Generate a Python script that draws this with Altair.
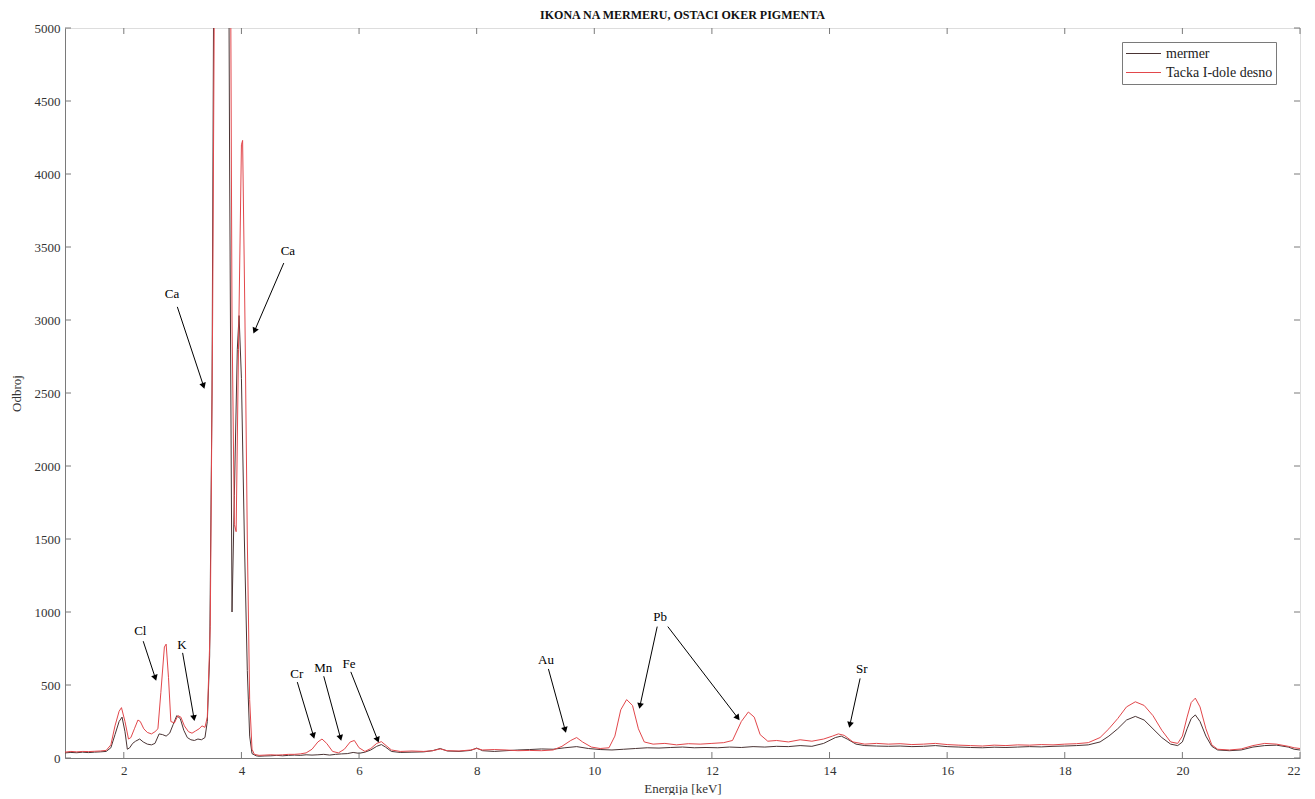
import math
import altair as alt
import pandas as pd

# ---------------- data ----------------
series_names = ["mermer", "Tacka I-dole desno"]
series_colors = ["#4a3434", "#e2474b"]

mermer_kev = [1.00, 1.1, 1.2, 1.3, 1.4, 1.5, 1.6, 1.7, 1.78, 1.85, 1.92, 1.97, 2.02, 2.06, 2.1, 2.15, 2.2, 2.27,
              2.33, 2.4, 2.47, 2.53, 2.6, 2.66, 2.72, 2.78, 2.84, 2.9, 2.96, 3.02, 3.08, 3.14, 3.2, 3.26, 3.32,
              3.38, 3.42, 3.46, 3.5, 3.53, 3.6, 3.7, 3.76, 3.8, 3.84, 3.88, 3.93, 3.96, 4.0, 4.05, 4.1, 4.14,
              4.18, 4.25, 4.3, 4.4, 4.5, 4.6, 4.7, 4.8, 4.9, 5.0, 5.1, 5.2, 5.3, 5.4, 5.5, 5.6, 5.7, 5.8, 5.9,
              6.0, 6.1, 6.2, 6.3, 6.38, 6.45, 6.55, 6.7, 6.9, 7.1, 7.25, 7.38, 7.5, 7.7, 7.9, 8.0, 8.1, 8.3,
              8.5, 8.7, 8.9, 9.1, 9.3, 9.5, 9.7, 9.9, 10.1, 10.3, 10.5, 10.7, 10.9, 11.1, 11.3, 11.5, 11.7,
              11.9, 12.1, 12.3, 12.5, 12.7, 12.9, 13.1, 13.3, 13.5, 13.7, 13.9, 14.1, 14.2, 14.3, 14.45, 14.6,
              14.8, 15.0, 15.2, 15.4, 15.6, 15.8, 16.0, 16.2, 16.4, 16.6, 16.8, 17.0, 17.2, 17.4, 17.6, 17.8,
              18.0, 18.2, 18.4, 18.6, 18.75, 18.9, 19.05, 19.2, 19.35, 19.5, 19.65, 19.8, 19.92, 20.0, 20.08,
              20.15, 20.22, 20.3, 20.4, 20.5, 20.6, 20.8, 21.0, 21.2, 21.4, 21.6, 21.8, 21.9, 22.0]
mermer_counts = [35, 38, 36, 40, 37, 40, 42, 45, 70, 160, 250, 280, 180, 60, 70, 100, 115, 130,
                 110, 95, 90, 100, 165, 160, 150, 170, 230, 290, 270, 190, 140, 125, 120, 130, 125,
                 140, 250, 700, 2500, 5500, 12000, 12000, 8000, 4000, 1000, 1800, 2800, 3030, 2600, 1500, 600, 150,
                 30, 15, 12, 14, 15, 18, 15, 18, 20, 18, 22, 20, 22, 25, 20, 25, 28, 30, 38,
                 32, 40, 55, 80, 92, 75, 45, 38, 40, 42, 50, 65, 48, 45, 52, 68, 50, 45,
                 50, 55, 58, 62, 60, 70, 78, 65, 58, 55, 60, 65, 70, 68, 72, 75, 70,
                 72, 70, 75, 72, 78, 75, 80, 78, 85, 80, 100, 140, 150, 130, 95, 85,
                 82, 80, 82, 78, 80, 85, 78, 75, 72, 70, 74, 72, 75, 78, 76, 80,
                 82, 85, 90, 110, 150, 200, 260, 285, 260, 200, 140, 95, 85, 110, 200,
                 270, 295, 250, 150, 80, 55, 50, 55, 75, 85, 88, 75, 60, 55]

tacka_kev = [1.0, 1.1, 1.2, 1.3, 1.4, 1.5, 1.6, 1.7, 1.78, 1.85, 1.92, 1.96, 2.02, 2.08, 2.12, 2.18, 2.24, 2.28,
             2.34, 2.4, 2.47, 2.53, 2.58, 2.63, 2.69, 2.72, 2.76, 2.8, 2.86, 2.92, 2.97, 3.03, 3.1, 3.16, 3.22,
             3.28, 3.33, 3.38, 3.42, 3.47, 3.51, 3.55, 3.65, 3.75, 3.8, 3.84, 3.88, 3.91, 3.95, 4.0, 4.02, 4.06,
             4.1, 4.14, 4.18, 4.22, 4.3, 4.4, 4.5, 4.6, 4.7, 4.8, 4.9, 5.0, 5.1, 5.2, 5.3, 5.37, 5.45, 5.55,
             5.65, 5.75, 5.85, 5.92, 6.0, 6.1, 6.2, 6.3, 6.38, 6.46, 6.55, 6.7, 6.9, 7.1, 7.25, 7.38, 7.5, 7.7,
             7.9, 8.0, 8.1, 8.3, 8.5, 8.7, 8.9, 9.1, 9.3, 9.45, 9.6, 9.7, 9.8, 9.95, 10.1, 10.25, 10.35, 10.45,
             10.55, 10.65, 10.75, 10.85, 11.0, 11.2, 11.4, 11.6, 11.8, 12.0, 12.2, 12.35, 12.5, 12.62, 12.72,
             12.82, 12.95, 13.1, 13.3, 13.5, 13.7, 13.9, 14.05, 14.15, 14.25, 14.4, 14.6, 14.8, 15.0, 15.2,
             15.4, 15.6, 15.8, 16.0, 16.2, 16.4, 16.6, 16.8, 17.0, 17.2, 17.4, 17.6, 17.8, 18.0, 18.2, 18.4,
             18.6, 18.75, 18.9, 19.05, 19.2, 19.35, 19.5, 19.65, 19.8, 19.92, 20.0, 20.08, 20.15, 20.22, 20.3,
             20.4, 20.5, 20.6, 20.8, 21.0, 21.2, 21.4, 21.6, 21.8, 21.9, 22.0]
tacka_counts = [40, 45, 42, 45, 44, 46, 48, 52, 90, 220, 320, 345, 250, 130, 140, 200, 260, 250,
                200, 175, 165, 180, 200, 450, 760, 780, 550, 250, 240, 290, 280, 220, 180, 170, 185,
                200, 220, 210, 280, 900, 3000, 6000, 12000, 12000, 7000, 3000, 1600, 1550, 2800, 4200, 4230, 3000,
                1500, 400, 60, 25, 18, 20, 22, 20, 22, 25, 25, 28, 35, 60, 110, 130, 100, 45,
                35, 60, 110, 120, 70, 45, 65, 100, 112, 85, 55, 45, 48, 45, 50, 62, 50, 48,
                55, 65, 55, 58, 55, 50, 52, 50, 55, 80, 120, 140, 110, 75, 65, 70, 150, 330,
                400, 360, 200, 110, 95, 100, 90, 98, 95, 100, 105, 120, 250, 315, 280,
                160, 115, 120, 110, 125, 115, 130, 150, 165, 155, 110, 95, 100, 95, 98,
                92, 95, 100, 92, 88, 85, 82, 88, 85, 90, 88, 92, 90, 95, 98, 105,
                140, 200, 270, 350, 385, 360, 290, 190, 110, 100, 150, 280, 380, 410, 350,
                200, 90, 60, 55, 62, 85, 100, 95, 80, 70, 65]

x_ticks = [2, 4, 6, 8, 10, 12, 14, 16, 18, 20, 22]
y_ticks = [0, 500, 1000, 1500, 2000, 2500, 3000, 3500, 4000, 4500, 5000]

# annotations: label, label position, arrow start, arrow end (keV, counts)
ann_label = ["Ca", "Ca", "Cl", "K", "Cr", "Mn", "Fe", "Au", "Pb", "Sr"]
ann_lx = [2.82, 4.79, 2.28, 2.99, 4.94, 5.39, 5.83, 9.18, 11.12, 14.55]
ann_ly = [3178, 3473, 870, 774, 575, 616, 644, 671, 966, 610]

arr_x1 = [2.91, 4.72, 2.33, 3.00, 4.95, 5.40, 5.86, 9.22, 11.07, 11.25, 14.52]
arr_y1 = [3090, 3390, 800, 720, 520, 560, 590, 610, 900, 900, 545]
arr_x2 = [3.35, 4.23, 2.53, 3.19, 5.22, 5.68, 6.31, 9.50, 10.78, 12.43, 14.35]
arr_y2 = [2555, 2932, 555, 280, 158, 144, 130, 199, 363, 280, 233]

W, H = 1235, 730
X_DOM = [1, 22]
Y_DOM = [0, 5000]

# ---------------- tables ----------------
spec = pd.concat([
    pd.DataFrame({"E": mermer_kev, "C": mermer_counts, "s": series_names[0]}),
    pd.DataFrame({"E": tacka_kev, "C": tacka_counts, "s": series_names[1]}),
])

sx = W / (X_DOM[1] - X_DOM[0])
sy = H / (Y_DOM[1] - Y_DOM[0])
angles = []
for a, b, c, d in zip(arr_x1, arr_y1, arr_x2, arr_y2):
    dx = (c - a) * sx
    dy = -(d - b) * sy
    angles.append(math.degrees(math.atan2(dx, -dy)) % 360)
arrows = pd.DataFrame({"x1": arr_x1, "y1": arr_y1, "x2": arr_x2, "y2": arr_y2, "ang": angles})
labels = pd.DataFrame({"t": ann_label, "x": ann_lx, "y": ann_ly})
xt = pd.DataFrame({"v": x_ticks})
yt = pd.DataFrame({"v": y_ticks})

FONT = "Liberation Serif"
GRAY = "#7a7a7a"
TXT = "#333333"

xscale = alt.Scale(domain=X_DOM, nice=False, zero=False)
yscale = alt.Scale(domain=Y_DOM, nice=False)

xaxis = alt.Axis(values=x_ticks, format="d", title="Energija [keV]", ticks=False, grid=False,
                 labelFont=FONT, labelFontSize=13, labelColor=TXT, labelPadding=6,
                 titleFont=FONT, titleFontSize=13, titleFontWeight="normal", titleColor=TXT,
                 titlePadding=5, domainColor=GRAY)
yaxis = alt.Axis(values=y_ticks, format="d", title="Odbroj", ticks=False, grid=False,
                 labelFont=FONT, labelFontSize=13, labelColor=TXT, labelPadding=5,
                 titleFont=FONT, titleFontSize=13, titleFontWeight="normal", titleColor=TXT,
                 titlePadding=11, domainColor=GRAY)

lines = alt.Chart(spec).mark_line(clip=True, strokeWidth=1).encode(
    x=alt.X("E:Q", scale=xscale, axis=xaxis),
    y=alt.Y("C:Q", scale=yscale, axis=yaxis),
    color=alt.Color("s:N", scale=alt.Scale(domain=series_names, range=series_colors),
                    sort=series_names,
                    legend=alt.Legend(title=None, orient="none", legendX=1057, legendY=14,
                                      symbolType="stroke", symbolSize=1225, symbolStrokeWidth=1.2,
                                      labelFont=FONT, labelFontSize=14, labelColor="#222222",
                                      strokeColor=GRAY, fillColor="white", padding=3,
                                      rowPadding=2, labelOffset=4, clipHeight=17)),
)

xs = alt.X("v:Q", scale=xscale)
ys = alt.Y("v:Q", scale=yscale)
tick_bottom = alt.Chart(xt).mark_rule(color=GRAY).encode(x=xs, y=alt.value(H), y2=alt.value(H - 6))
tick_top = alt.Chart(xt).mark_rule(color=GRAY).encode(x=xs, y=alt.value(0), y2=alt.value(6))
tick_left = alt.Chart(yt).mark_rule(color=GRAY).encode(y=ys, x=alt.value(0), x2=alt.value(6))
tick_right = alt.Chart(yt).mark_rule(color=GRAY).encode(y=ys, x=alt.value(W), x2=alt.value(W - 6))

shafts = alt.Chart(arrows).mark_rule(color="black", strokeWidth=1).encode(
    x=alt.X("x1:Q", scale=xscale), y=alt.Y("y1:Q", scale=yscale), x2="x2:Q", y2="y2:Q")
heads = alt.Chart(arrows).mark_point(shape="triangle", filled=True, color="black", size=45, opacity=1).encode(
    x=alt.X("x2:Q", scale=xscale), y=alt.Y("y2:Q", scale=yscale), angle=alt.Angle("ang:Q", scale=None))
texts = alt.Chart(labels).mark_text(font=FONT, fontSize=13, color="black").encode(
    x=alt.X("x:Q", scale=xscale), y=alt.Y("y:Q", scale=yscale), text="t:N")

chart = alt.layer(lines, tick_bottom, tick_top, tick_left, tick_right, shafts, heads, texts).properties(
    width=W, height=H,
    title=alt.TitleParams("IKONA NA MERMERU, OSTACI OKER PIGMENTA", font=FONT, fontSize=12,
                          fontWeight="bold", color="#111111", anchor="middle", offset=0),
    padding={"left": 2, "top": 1, "right": 4, "bottom": 0},
).configure_view(stroke=GRAY, strokeWidth=1).configure(background="white")

chart.save("out.html", embed_options={"renderer": "svg", "actions": False})
